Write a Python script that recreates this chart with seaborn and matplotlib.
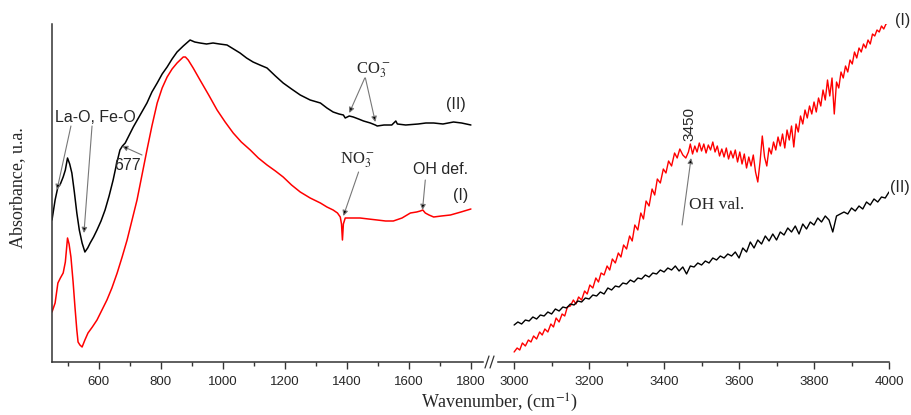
import numpy as np
import matplotlib
matplotlib.use("Agg")
import matplotlib.pyplot as plt
from matplotlib.lines import Line2D
from matplotlib.ticker import MultipleLocator
import seaborn as sns

# ---- data (absorbance in arbitrary units) ----
low_wn_II = [450, 460, 469, 477, 486, 493, 500, 507, 514, 522, 530, 538, 547, 556, 565, 573,
             584, 595, 608, 621, 634, 647, 658, 669, 677, 686, 699, 712, 723, 734, 745, 756,
             772, 789, 805, 821, 837, 853, 873, 895, 910, 927, 948, 969, 990, 1014, 1035,
             1056, 1077, 1098, 1120, 1143, 1170, 1195, 1222, 1250, 1282, 1315, 1336, 1356,
             1375, 1389, 1395, 1408, 1421, 1438, 1454, 1476, 1492, 1498, 1520, 1545, 1558,
             1563, 1590, 1630, 1655, 1680, 1710, 1744, 1770, 1800]
low_abs_II = [142, 162, 175, 178, 185, 192, 204, 198, 189, 170, 149, 132, 119, 110, 114, 119,
              125, 132, 141, 152, 166, 182, 198, 212, 216, 219, 227, 235, 241, 247, 253, 259,
              270, 279, 288, 295, 303, 310, 316, 322, 320, 319, 318, 319, 318, 317, 313,
              309, 304, 300, 297, 294, 286, 279, 273, 267, 262, 259, 254, 250,
              248, 247, 244, 246, 245, 243, 241, 239, 237, 236, 237, 237, 241,
              238, 237, 238, 239, 239, 238, 240, 239, 237]

low_wn_I = [450, 460, 469, 477, 486, 493, 500, 505, 511, 518, 524, 530, 534, 540, 547, 556,
            566, 580, 595, 611, 627, 643, 660, 676, 692, 708, 724, 740, 756, 772, 789, 805,
            821, 837, 853, 873, 880, 889, 905, 927, 955, 982, 1008, 1034, 1060, 1089, 1115,
            1143, 1170, 1195, 1222, 1250, 1282, 1315, 1336, 1356, 1370, 1379, 1383, 1386,
            1389, 1395, 1420, 1443, 1470, 1498, 1525, 1550, 1578, 1605, 1625, 1637, 1645,
            1653, 1665, 1680, 1705, 1734, 1768, 1800]
low_abs_I = [50, 59, 79, 84, 89, 100, 124, 118, 105, 80, 55, 32, 20, 17, 15, 22,
             29, 35, 42, 52, 62, 74, 89, 105, 122, 142, 162, 187, 212, 236, 259, 274,
             285, 293, 299, 305, 305, 302, 294, 282, 267, 252, 240, 229, 220, 212, 204,
             197, 191, 185, 177, 170, 164, 159, 155, 152, 149, 145, 138, 122,
             138, 144, 144, 144, 143, 142, 141, 141, 144, 149, 150, 151, 152,
             149, 147, 145, 146, 147, 150, 153]

high_wn_I = [3000, 3008, 3015, 3022, 3030, 3038, 3045, 3052, 3060, 3068, 3075, 3082, 3090, 3098,
             3105, 3112, 3120, 3128, 3135, 3142, 3150, 3158, 3165, 3172, 3180, 3188, 3195, 3202,
             3210, 3218, 3225, 3232, 3240, 3248, 3255, 3262, 3270, 3278, 3285, 3292, 3300, 3308,
             3315, 3322, 3330, 3338, 3345, 3352, 3360, 3368, 3375, 3382, 3390, 3398, 3405, 3412,
             3420, 3428, 3435, 3442, 3450, 3458, 3465, 3470, 3476, 3482, 3488, 3494, 3500, 3506,
             3512, 3518, 3524, 3530, 3536, 3542, 3548, 3554, 3560, 3566, 3572, 3578, 3584, 3590,
             3596, 3602, 3608, 3614, 3620, 3626, 3632, 3638, 3644, 3650, 3656, 3662, 3668, 3674,
             3680, 3686, 3692, 3698, 3704, 3710, 3716, 3722, 3728, 3734, 3740, 3746, 3752, 3758,
             3764, 3770, 3776, 3782, 3788, 3794, 3800, 3806, 3812, 3818, 3824, 3830, 3836, 3842,
             3848, 3854, 3860, 3866, 3872, 3878, 3884, 3890, 3896, 3902, 3908, 3914, 3920, 3926,
             3932, 3938, 3944, 3950, 3956, 3962, 3968, 3974, 3980, 3986, 3992, 4000]
high_abs_I = [10, 14, 12, 19, 16, 22, 20, 26, 23, 30, 27, 33, 30, 38,
              35, 44, 40, 48, 46, 55, 56, 62, 58, 65, 62, 71, 68, 77,
              74, 84, 80, 89, 87, 96, 92, 103, 99, 109, 105, 117, 113, 126,
              121, 137, 132, 149, 143, 161, 156, 173, 167, 183, 179, 193, 189, 201,
              196, 209, 204, 213, 207, 204, 210, 218, 208, 216, 210, 219, 211, 218,
              209, 217, 212, 220, 210, 216, 206, 213, 205, 214, 203, 211, 204, 212,
              200, 210, 198, 208, 194, 205, 196, 207, 190, 180, 200, 226, 205, 196,
              214, 208, 220, 212, 225, 216, 228, 214, 232, 222, 236, 215, 238, 230,
              246, 238, 252, 244, 256, 248, 260, 250, 264, 256, 272, 262, 282, 266,
              284, 248, 280, 274, 290, 284, 296, 290, 302, 298, 310, 304, 314, 310,
              318, 314, 322, 318, 328, 326, 332, 330, 336, 333, 338, 340]

high_wn_II = [3000, 3010, 3020, 3030, 3040, 3050, 3060, 3070, 3080, 3090, 3100, 3110, 3120, 3130,
              3140, 3150, 3160, 3170, 3180, 3190, 3200, 3210, 3220, 3230, 3240, 3250, 3260, 3270,
              3280, 3290, 3300, 3310, 3320, 3330, 3340, 3350, 3360, 3370, 3380, 3390, 3400, 3410,
              3420, 3430, 3440, 3450, 3460, 3470, 3480, 3490, 3500, 3510, 3520, 3530, 3540, 3550,
              3560, 3570, 3580, 3590, 3600, 3610, 3620, 3630, 3640, 3650, 3660, 3670, 3680, 3690,
              3700, 3710, 3720, 3730, 3740, 3750, 3760, 3770, 3780, 3790, 3800, 3810, 3820, 3830,
              3840, 3850, 3860, 3870, 3880, 3890, 3900, 3910, 3920, 3930, 3940, 3950, 3960, 3970,
              3980, 3990, 4000]
high_abs_II = [37, 40, 38, 42, 41, 45, 43, 47, 46, 50, 48, 53, 51, 55,
               54, 58, 57, 61, 60, 64, 63, 67, 66, 70, 68, 74, 72, 76,
               75, 79, 78, 82, 80, 84, 83, 87, 85, 89, 88, 92, 90, 94,
               92, 96, 91, 95, 88, 96, 95, 99, 97, 101, 99, 104, 102, 106,
               104, 108, 106, 110, 104, 114, 110, 120, 114, 122, 118, 126, 121, 128,
               122, 130, 127, 134, 130, 136, 128, 138, 133, 140, 137, 144, 140, 146,
               142, 130, 146, 148, 150, 148, 154, 151, 156, 153, 160, 157, 163, 160,
               165, 164, 170]

low_ticks = [600, 800, 1000, 1200, 1400, 1600, 1800]
high_ticks = [3000, 3200, 3400, 3600, 3800, 4000]

# ---- figure ----
sns.set_style("ticks")
plt.rcParams['font.family'] = ['Liberation Sans', 'DejaVu Sans']
plt.rcParams['mathtext.fontset'] = 'stix'
SERIF = ['Liberation Serif', 'DejaVu Serif']

fig = plt.figure(figsize=(9.12, 4.15), dpi=100)
ax1 = fig.add_axes([52 / 912, 53 / 415, 431 / 912, 338 / 415])
ax2 = fig.add_axes([498 / 912, 53 / 415, 391 / 912, 338 / 415])

sns.lineplot(x=low_wn_II, y=low_abs_II, ax=ax1, color='black', lw=1.1, sort=False, estimator=None)
sns.lineplot(x=low_wn_I, y=low_abs_I, ax=ax1, color='red', lw=1.1, sort=False, estimator=None)
sns.lineplot(x=high_wn_I, y=high_abs_I, ax=ax2, color='red', lw=1.0, sort=False, estimator=None)
sns.lineplot(x=high_wn_II, y=high_abs_II, ax=ax2, color='black', lw=1.0, sort=False, estimator=None)

ax1.set_xlim(450, 1839)
ax2.set_xlim(2957, 4000)
for ax in (ax1, ax2):
    ax.set_ylim(0, 338)
    ax.set_yticks([])
    ax.set_xlabel('')
    ax.set_ylabel('')
    ax.patch.set_alpha(0)
    for s in ('top', 'right'):
        ax.spines[s].set_visible(False)
    ax.tick_params(axis='x', which='major', direction='out', length=5, width=1,
                   labelsize=9.5, pad=5, color='#333333')
    ax.tick_params(axis='x', which='minor', direction='out', length=3, width=1, color='#333333')
    ax.spines['bottom'].set_color('#333333')
    ax.spines['bottom'].set_linewidth(1.1)
ax1.spines['left'].set_color('#333333')
ax1.spines['left'].set_linewidth(1.1)
ax2.spines['left'].set_visible(False)

ax1.set_xticks(low_ticks)
ax1.xaxis.set_minor_locator(MultipleLocator(100))
ax2.set_xticks(high_ticks)
ax2.xaxis.set_minor_locator(MultipleLocator(100))

# axis break marks
for x0 in (485, 490):
    fig.add_artist(Line2D([x0 / 912, (x0 + 4) / 912], [47 / 415, 59 / 415],
                          color='#333333', lw=0.9))

fig.text(18 / 912, 1 - 188 / 415, 'Absorbance, u.a.', rotation=90, ha='center', va='center',
         fontsize=13, family=SERIF)
fig.text(500 / 912, 1 - 403 / 415, 'Wavenumber, (cm$^{-1}$)', ha='center', va='center',
         fontsize=13, family=SERIF)

arrow = dict(arrowstyle='-|>', fc='black', ec='#777777', lw=0.8, mutation_scale=8,
             shrinkA=0, shrinkB=0)

# left panel labels
ax1.text(589, 244, 'La-O, Fe-O', ha='center', va='center', fontsize=11.5)
ax1.annotate('', xy=(466, 172), xytext=(511, 236), arrowprops=arrow)
ax1.annotate('', xy=(553, 129), xytext=(579, 236), arrowprops=arrow)
ax1.text(692, 197, '677', ha='center', va='center', fontsize=11.5)
ax1.annotate('', xy=(676, 216), xytext=(740, 207), arrowprops=arrow)
ax1.text(1484, 292, 'CO$_3^-$', ha='center', va='center', fontsize=12, family=SERIF)
ax1.annotate('', xy=(1408, 249), xytext=(1458, 284), arrowprops=arrow)
ax1.annotate('', xy=(1492, 240), xytext=(1460, 284), arrowprops=arrow)
ax1.text(1750, 257, '(II)', ha='center', va='center', fontsize=11.5)
ax1.text(1436, 202, 'NO$_3^-$', ha='center', va='center', fontsize=12, family=SERIF)
ax1.annotate('', xy=(1389, 146), xytext=(1438, 190), arrowprops=arrow)
ax1.text(1702, 192, 'OH def.', ha='center', va='center', fontsize=11.5)
ax1.annotate('', xy=(1644, 152), xytext=(1653, 182), arrowprops=arrow)
ax1.text(1766, 167, '(I)', ha='center', va='center', fontsize=11.5)

# right panel labels
ax2.text(4036, 342, '(I)', ha='center', va='center', fontsize=11.5, clip_on=False)
ax2.text(4030, 175, '(II)', ha='center', va='center', fontsize=11.5, clip_on=False)
ax2.text(3469, 238, '3450', rotation=90, ha='center', va='center', fontsize=11)
ax2.annotate('', xy=(3472, 204), xytext=(3448, 137), arrowprops=arrow)
ax2.text(3541, 157, 'OH val.', ha='center', va='center', fontsize=12.5, family=SERIF)

fig.savefig('out.png', dpi=100)
